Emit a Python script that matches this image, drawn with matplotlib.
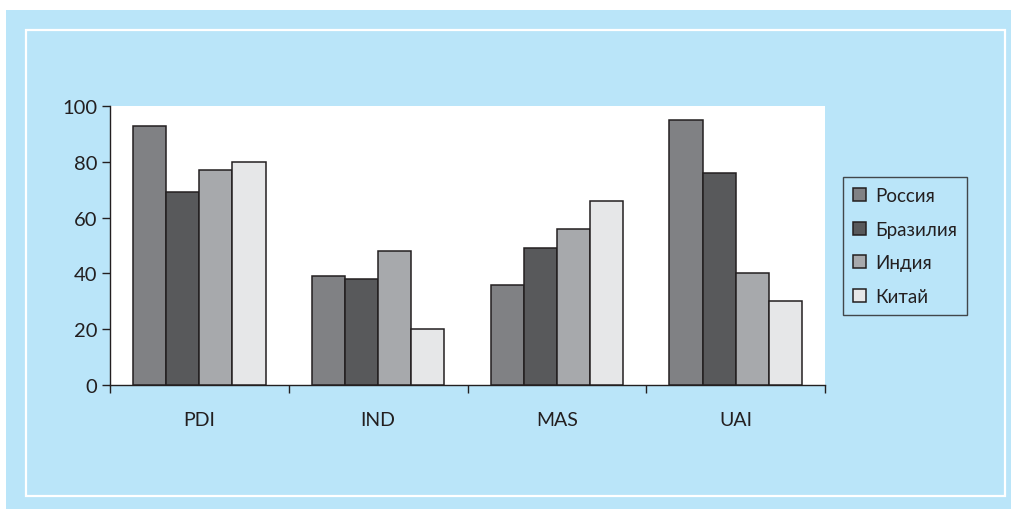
import matplotlib
matplotlib.use("Agg")
import matplotlib.pyplot as plt
import numpy as np
from matplotlib.patches import Rectangle

categories = ["PDI", "IND", "MAS", "UAI"]
series_names = ["Россия", "Бразилия", "Индия", "Китай"]
russia = [93, 39, 36, 95]
brazil = [69, 38, 49, 76]
india = [77, 48, 56, 40]
china = [80, 20, 66, 30]
yticks = [0, 20, 40, 60, 80, 100]

series_values = [russia, brazil, india, china]
colors = ["#808184", "#58595b", "#a7a9ac", "#e6e7e8"]
edge = "#231f20"
blue = "#bae5f9"

plt.rcParams['font.family'] = ['Lato', 'DejaVu Sans']

W, H = 1011, 510
fig = plt.figure(figsize=(W / 100, H / 100), dpi=100)
fig.patch.set_facecolor("white")

def px(x0, y0, x1, y1):
    return (x0 / W, 1 - y1 / H), (x1 - x0) / W, (y1 - y0) / H

xy, w, h = px(6, 11, 1011, 510)
fig.patches.append(Rectangle(xy, w, h, transform=fig.transFigure, facecolor=blue, edgecolor="none", zorder=-10))
xy, w, h = px(26, 31, 1005, 497)
fig.patches.append(Rectangle(xy, w, h, transform=fig.transFigure, facecolor="none", edgecolor="white", linewidth=1.6, zorder=-9))

ax = fig.add_axes([110 / W, 1 - 386 / H, (825 - 110) / W, (386 - 107) / H])
ax.set_facecolor("white")

x = np.arange(len(categories))
bw = 0.185
for i, (vals, name, c) in enumerate(zip(series_values, series_names, colors)):
    ax.bar(x + (i - 1.5) * bw, vals, bw, color=c, edgecolor=edge, linewidth=1.1, label=name, zorder=3)

ax.set_xlim(-0.5, len(categories) - 0.5)
ax.set_ylim(0, 100)
ax.set_yticks(yticks)
ax.tick_params(axis='y', direction='out', length=6, width=1, color=edge, labelsize=14.5, pad=3, labelcolor=edge)

ax.set_xticks(np.arange(len(categories) + 1) - 0.5)
ax.set_xticklabels([])
ax.set_xticks(x, minor=True)
ax.set_xticklabels(categories, minor=True)
ax.tick_params(axis='x', which='major', direction='out', length=6, width=1, color=edge)
ax.tick_params(axis='x', which='minor', length=0, labelsize=14, pad=19, labelcolor=edge)

for s in ["top", "right"]:
    ax.spines[s].set_visible(False)
for s in ["left", "bottom"]:
    ax.spines[s].set_color(edge)
    ax.spines[s].set_linewidth(1)

leg = fig.legend(loc="upper left", bbox_to_anchor=(843 / W, 1 - 178 / H), frameon=True,
                 fontsize=13.5, handlelength=0.7, handleheight=0.7, handletextpad=0.45,
                 labelspacing=0.88, borderpad=0.55, borderaxespad=0, fancybox=False)
leg.get_frame().set_facecolor("none")
leg.get_frame().set_edgecolor(edge)
leg.get_frame().set_linewidth(1)
for t in leg.get_texts():
    t.set_color(edge)

fig.savefig("out.png", dpi=100, facecolor=fig.get_facecolor())
